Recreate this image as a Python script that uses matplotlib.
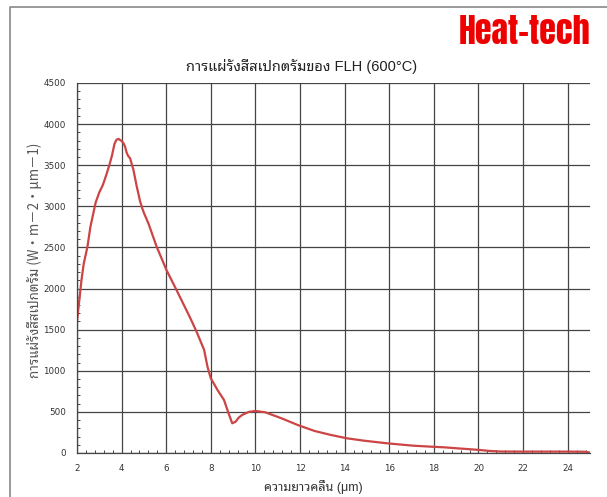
import matplotlib
matplotlib.use("Agg")
import matplotlib.pyplot as plt
from matplotlib import font_manager
from matplotlib.lines import Line2D
from matplotlib.ticker import MultipleLocator

# ---------------- data ----------------
wavelength = [2.0, 2.1, 2.2, 2.3, 2.47, 2.6, 2.84, 3.0, 3.16, 3.31, 3.46, 3.57,
              3.68, 3.77, 3.86, 4.0, 4.08, 4.15, 4.23, 4.3, 4.38, 4.53, 4.68,
              4.83, 4.92, 5.0, 5.2, 5.57, 6.01, 6.46, 6.9, 7.12, 7.4, 7.7, 7.85,
              8.0, 8.3, 8.59, 8.8, 8.96, 9.11, 9.25, 9.4, 9.7, 10.0, 10.44,
              11.17, 11.9, 12.65, 13.39, 14.12, 14.86, 15.9, 17.07, 18.0, 18.47,
              19.0, 19.5, 20.0, 20.5, 21.0, 22.0, 23.0, 24.0, 24.8, 25.0]
radiance = [1600, 1850, 2100, 2300, 2510, 2750, 3050, 3170, 3260, 3380, 3510, 3620,
            3760, 3810, 3820, 3795, 3770, 3730, 3650, 3610, 3585, 3443, 3240,
            3060, 2980, 2920, 2794, 2510, 2226, 1983, 1740, 1618, 1450, 1253, 1050,
            908, 766, 645, 480, 361, 381, 430, 462, 500, 511, 495,
            422, 340, 268, 219, 178, 150, 118, 89, 75, 69,
            58, 48, 38, 25, 18, 17, 17, 17, 15, 5]
x_ticks = [2, 4, 6, 8, 10, 12, 14, 16, 18, 20, 22, 24]
y_ticks = [0, 500, 1000, 1500, 2000, 2500, 3000, 3500, 4000, 4500]

title_text = "การแผ่รังสีสเปกตรัมของ FLH (600°C)"
xlabel_text = "ความยาวคลื่น (μm)"
ylabel_text = "การแผ่รังสีสเปกตรัม (W・m－2・μm－1)"
brand_text = "Heat-tech"

# ---------------- fonts ----------------
available = {f.name for f in font_manager.fontManager.ttflist}
thai_pref = ["Noto Sans Thai Looped", "Noto Sans Thai", "Sarabun", "Noto Sans Thai UI",
             "Bai Jamjuree", "Athiti"]
thai_font = next((n for n in thai_pref if n in available), "Athiti")
txt_family = ["Liberation Sans", thai_font, "Noto Sans CJK JP", "DejaVu Sans"]
ylab_family = ["Noto Sans CJK JP", thai_font, "DejaVu Sans"]
brand_pref = ["Anton", "Oswald", "Bebas Neue", "Roboto Condensed", "Fjalla One",
              "Liberation Sans Narrow", "DejaVu Sans"]
brand_font = next((n for n in brand_pref if n in available), "DejaVu Sans")

# ---------------- figure ----------------
fig = plt.figure(figsize=(6.07, 4.97), dpi=100)
W, H = 607, 497
ax = fig.add_axes([77 / W, (H - 453) / H, 513 / W, 370 / H])

ax.plot(wavelength, radiance, color="#cc4444", lw=1.6, solid_joinstyle="round")

ax.set_xlim(2, 25)
ax.set_ylim(0, 4500)
ax.set_xticks(x_ticks)
ax.set_yticks(y_ticks)
ax.xaxis.set_minor_locator(MultipleLocator(0.4))
ax.yaxis.set_minor_locator(MultipleLocator(100))
ax.grid(True, which="major", color="#444444", lw=0.9)
ax.set_axisbelow(True)

for s in ["top", "right"]:
    ax.spines[s].set_visible(False)
for s in ["left", "bottom"]:
    ax.spines[s].set_color("#444444")
    ax.spines[s].set_linewidth(0.9)

ax.tick_params(which="major", length=0, pad=8, labelsize=6.3, labelcolor="#333333")
ax.tick_params(which="minor", direction="in", length=2.5, width=0.7, color="#444444")
for lab in ax.get_xticklabels() + ax.get_yticklabels():
    lab.set_fontfamily("DejaVu Sans")

ax.set_xlabel(xlabel_text, family=txt_family, fontsize=9, color="#333333")
ax.xaxis.set_label_coords((313 - 77) / 513, -(487 - 453) / 370)
ax.xaxis.label.set_va("center")
ax.set_ylabel(ylabel_text, family=ylab_family, fontsize=9.6, color="#555555")
ax.yaxis.set_label_coords(-(77 - 35) / 513, (453 - 260) / 370)
ax.yaxis.label.set_va("center")

fig.text(302 / W, 1 - 67 / H, title_text, family=txt_family, fontsize=10.5,
         color="#222222", ha="center", va="center")
brand = fig.text(590 / W, 1 - 31 / H, brand_text, family=[brand_font, "DejaVu Sans"],
                 fontsize=24.5, fontweight="bold", fontstretch="condensed",
                 color="#ee0000", ha="right", va="center")

# outer frame (top and left)
fig.add_artist(Line2D([10 / W, 10 / W, 1.0], [0.0, 1 - 7 / H, 1 - 7 / H],
                      transform=fig.transFigure, color="#888888", lw=1.2))

fig.savefig("out.png", dpi=100)
